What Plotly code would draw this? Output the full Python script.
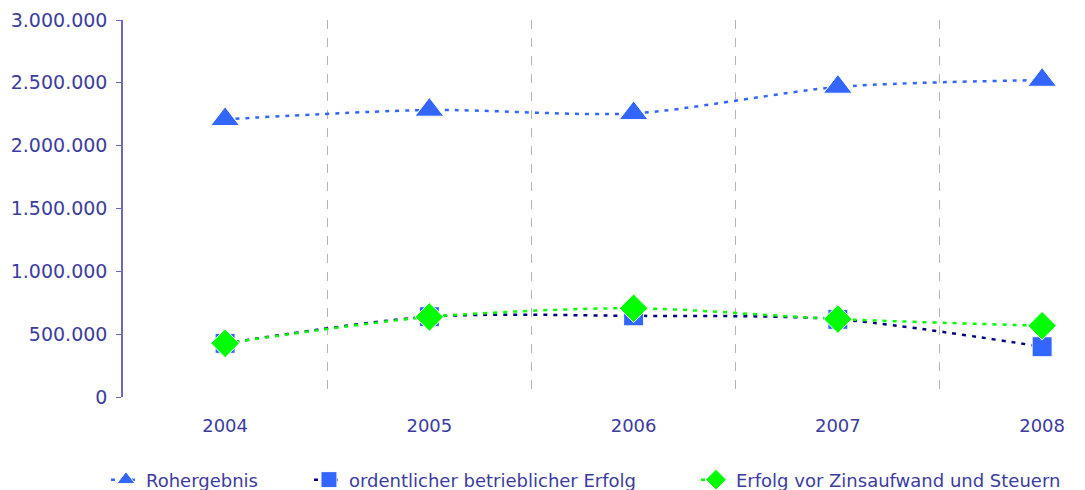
import plotly.graph_objects as go

years = ["2004", "2005", "2006", "2007", "2008"]
rohergebnis = [2210000, 2284000, 2257000, 2467000, 2522000]
ordentlich = [427000, 639000, 646000, 618000, 400000]
erfolg_vor = [427000, 637000, 706000, 620000, 567000]

font_family = "DejaVu Sans"
text_color = "#3c3ca0"

fig = go.Figure()
fig.add_trace(go.Scatter(
    x=years, y=rohergebnis, name="Rohergebnis", mode="lines+markers", legend="legend",
    line=dict(color="#3366ff", width=2.5, dash="4px,6px", shape="spline", smoothing=0.8),
    marker=dict(symbol="triangle-up", size=25, color="#3366ff", line=dict(color="white", width=1)),
))
fig.add_trace(go.Scatter(
    x=years, y=ordentlich, name="ordentlicher betrieblicher Erfolg", mode="lines+markers", legend="legend2",
    line=dict(color="#000080", width=2.5, dash="4px,6px", shape="spline", smoothing=0.8),
    marker=dict(symbol="square", size=20, color="#3366ff", line=dict(color="white", width=1)),
))
fig.add_trace(go.Scatter(
    x=years, y=erfolg_vor, name="Erfolg vor Zinsaufwand und Steuern", mode="lines+markers", legend="legend3",
    line=dict(color="#00ff00", width=2.5, dash="4px,6px", shape="spline", smoothing=0.8),
    marker=dict(symbol="diamond", size=22, color="#00ff00", line=dict(color="white", width=1)),
))

leg_common = dict(orientation="h", y=-0.22, yanchor="middle", xanchor="left",
                  font=dict(size=18, color=text_color), bgcolor="rgba(0,0,0,0)")

fig.update_layout(
    width=1077, height=482,
    margin=dict(l=115, r=0, t=12, b=93, autoexpand=False),
    paper_bgcolor="white", plot_bgcolor="white",
    separators=",.",
    font=dict(family=font_family, size=18, color=text_color),
    showlegend=True,
    legend=dict(x=-0.0177, **leg_common),
    legend2=dict(x=0.1933, **leg_common),
    legend3=dict(x=0.5956, **leg_common),
    xaxis=dict(type="category", range=[-0.5, 4.21], tickson="boundaries",
               showgrid=True, gridcolor="#b4b4b4", gridwidth=1, griddash="dash",
               showline=False, ticks="", zeroline=False, ticklabelstandoff=16,
               tickfont=dict(size=18, color=text_color)),
    yaxis=dict(range=[0, 3000000], dtick=500000, tickformat=",d",
               showgrid=False, zeroline=False,
               showline=True, linecolor="#6a6ab8", linewidth=1.5,
               ticks="outside", ticklen=5, tickcolor="#6a6ab8", ticklabelstandoff=5,
               tickfont=dict(size=19, color=text_color)),
)

fig.write_html("out.html")
